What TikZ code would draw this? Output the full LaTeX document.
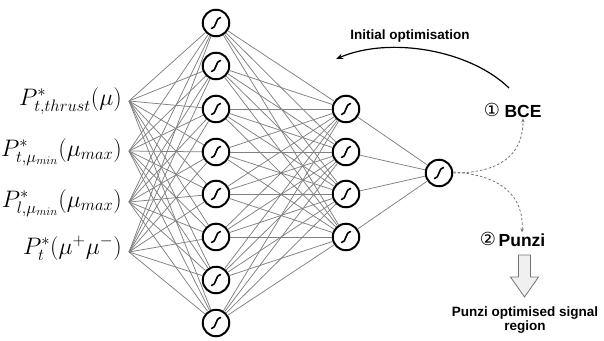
\documentclass[tikz,border=0pt]{standalone}
\usepackage[no-math]{fontspec}
\newfontfamily\lsans{Liberation Sans}
\newfontfamily\dejavu{DejaVu Sans}
\usetikzlibrary{arrows.meta}
\tikzset{
  neuron/.style={circle,draw=black,line width=2pt,minimum size=26.5pt,inner sep=0pt,fill=white},
  conn/.style={draw=black!50,line width=0.75pt},
  sigm/.pic={\draw[line width=1.6pt,line cap=round] (-4.5,5.5) .. controls (0.5,5.5) and (-0.5,-5.5) .. (4.5,-5.5);},
  inlabel/.style={anchor=east,inner sep=0pt,font=\fontsize{20}{24}\selectfont},
  boldtxt/.style={font=\lsans\bfseries\fontsize{13.5}{14.5}\selectfont,align=center,inner sep=1pt},
  bigtxt/.style={font=\lsans\bfseries\fontsize{17.5}{20}\selectfont,inner sep=1pt},
  circnum/.style={font=\dejavu\fontsize{18}{20}\selectfont,inner sep=0pt},
  dasharr/.style={draw=black!55,dashed,dash pattern=on 2.5pt off 2pt,line width=0.8pt,-{Stealth[length=4pt,width=3.5pt]}},
  mainarr/.style={draw=black,line width=1.2pt,-{Stealth[length=7pt,width=5.5pt]}},
  blockarr/.style={draw=black!55,fill=black!6,line width=0.8pt,line join=miter}
}
\begin{document}
\begin{tikzpicture}[x=1pt,y=-1pt]
\useasboundingbox (0,0) rectangle (604,340);
% input points
\foreach \i/\y in {1/101,2/151,3/202,4/252} \coordinate (in\i) at (129,\y);
% hidden layer 1
\foreach \j/\y in {1/23,2/66,3/109,4/152,5/194,6/237,7/280,8/323}
  \node[neuron] (h\j) at (216,\y) {};
% hidden layer 2
\foreach \k/\y in {1/109,2/152,3/194,4/237}
  \node[neuron] (g\k) at (346,\y) {};
\node[neuron] (out) at (439,173) {};
% connections
\foreach \i in {1,...,4}
  \foreach \j in {1,...,8}
    \draw[conn] (in\i) -- (h\j);
\foreach \j in {1,...,8}
  \foreach \k in {1,...,4}
    \draw[conn] (h\j) -- (g\k);
\foreach \k in {1,...,4}
  \draw[conn] (g\k) -- (out);
% sigmoid glyphs
\foreach \j in {1,...,8} \pic at (h\j) {sigm};
\foreach \k in {1,...,4} \pic at (g\k) {sigm};
\pic at (out) {sigm};
% input labels
\node[inlabel] (l1) at (122,101) {\scalebox{1.15}{$P^*_{t,thrust}(\mu)$}};
\node[inlabel] (l2) at (122,152) {\scalebox{1.15}{$P^*_{t,\mu_{min}}(\mu_{max})$}};
\node[inlabel] (l3) at (122,203) {\scalebox{1.15}{$P^*_{l,\mu_{min}}(\mu_{max})$}};
\node[inlabel] (l4) at (122,248) {\scalebox{1.15}{$P^*_{t}(\mu^+\mu^-)$}};
% right side
\node[bigtxt] (bce) at (523,111) {BCE};
\node[circnum] (c1) at (492,110) {①};
\node[bigtxt] (punzi) at (522,240) {Punzi};
\node[circnum] (c2) at (488,239) {②};
\node[boldtxt] (iopt) at (410,36) {Initial optimisation};
\node[boldtxt] (res) at (525,320) {Punzi optimised signal\\region};
\coordinate (a1) at (509,88);
\coordinate (a2) at (336,59);
\draw[mainarr] (a1) .. controls (470,50) and (390,36) .. (a2);
\draw[dasharr] (out.east) .. controls (500,173) and (523,155) .. (bce.south);
\draw[dasharr] ([yshift=1pt]out.east) .. controls (500,175) and (524,195) .. (punzi.north);
\draw[blockarr] (518.5,255) -- (530.5,255) -- (530.5,277) -- (538.5,277) -- (524.5,297) -- (510.5,277) -- (518.5,277) -- cycle;
\end{tikzpicture}
\end{document}
